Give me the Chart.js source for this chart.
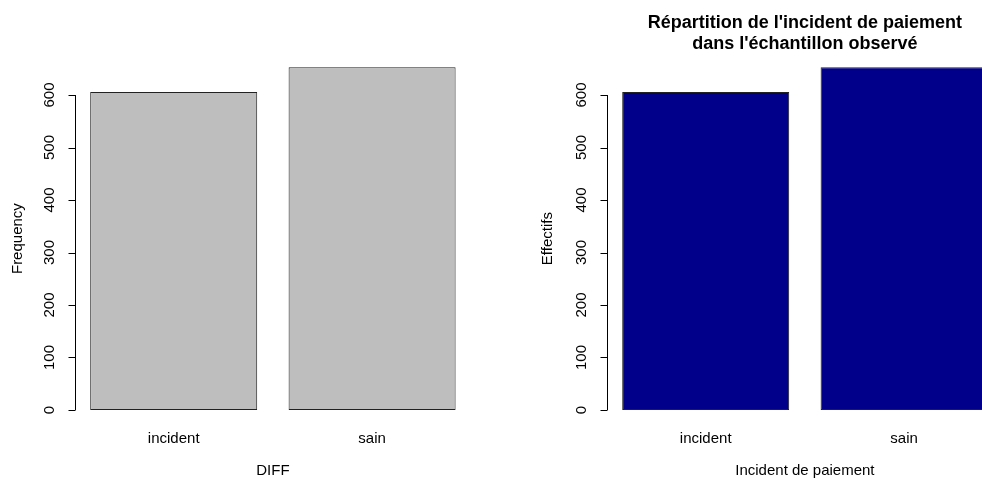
<!DOCTYPE html>
<html lang="fr">
<head>
  <meta charset="UTF-8" />
  <title>Incident de paiement</title>
  <script src="https://cdn.jsdelivr.net/npm/chart.js"></script>
  <style>
    html, body { margin: 0; padding: 0; background: #fff; overflow: hidden; }
    body { width: 982px; height: 480px; position: relative; }
    canvas { position: absolute; top: 0; }
  </style>
</head>
<body>
  <canvas id="leftChart" width="491" height="480" style="left:0"></canvas>
  <canvas id="rightChart" width="540" height="480" style="left:491px"></canvas>

  <script>
    // data
    const categories = ['incident', 'sain'];
    const counts = [606, 653];
    const yTicks = [0, 100, 200, 300, 400, 500, 600];

    const FONT = '"Liberation Sans", Arial, sans-serif';

    // R style axes, titles and labels drawn from the chart's own scales
    const rAxes = {
      id: 'rAxes',
      afterDraw(chart, args, opts) {
        const ctx = chart.ctx;
        const area = chart.chartArea;
        const y = chart.scales.y;
        const x = chart.scales.x;
        ctx.save();
        ctx.strokeStyle = '#000';
        ctx.fillStyle = '#000';
        ctx.lineWidth = 1;

        // y axis line + ticks
        const ax = Math.round(area.left) + 0.5;
        ctx.beginPath();
        ctx.moveTo(ax, y.getPixelForValue(yTicks[0]));
        ctx.lineTo(ax, y.getPixelForValue(yTicks[yTicks.length - 1]));
        yTicks.forEach(t => {
          const py = Math.round(y.getPixelForValue(t)) + 0.5;
          ctx.moveTo(ax, py);
          ctx.lineTo(ax - 7, py);
        });
        ctx.stroke();

        ctx.font = '15px ' + FONT;
        ctx.textAlign = 'center';
        ctx.textBaseline = 'middle';
        yTicks.forEach(t => {
          ctx.save();
          ctx.translate(area.left - 24.5, y.getPixelForValue(t));
          ctx.rotate(-Math.PI / 2);
          ctx.fillText(String(t), 0, 0);
          ctx.restore();
        });

        // y title
        ctx.save();
        ctx.translate(area.left - opts.ylabGap, (area.top + area.bottom) / 2);
        ctx.rotate(-Math.PI / 2);
        ctx.fillText(opts.ylab, 0, 0);
        ctx.restore();

        // category labels + x title
        categories.forEach((c, i) => {
          ctx.fillText(c, x.getPixelForValue(i), 439);
        });
        const cx = (area.left + area.right) / 2;
        ctx.fillText(opts.xlab, cx, 471);

        // main title
        if (opts.title) {
          ctx.font = 'bold 18px ' + FONT;
          opts.title.forEach((line, i) => ctx.fillText(line, cx, 23 + i * 21.5));
        }
        ctx.restore();
      }
    };

    function makeChart(id, color, pad, extra) {
      const top = Math.max(...counts);
      new Chart(document.getElementById(id), {
        type: 'bar',
        data: {
          labels: categories,
          datasets: [{
            data: counts,
            backgroundColor: color,
            borderColor: '#222',
            borderWidth: 1,
            borderSkipped: false,
            barPercentage: 1 / 1.188,
            categoryPercentage: 1
          }]
        },
        options: {
          responsive: false,
          animation: false,
          devicePixelRatio: 1,
          layout: { padding: pad },
          scales: {
            x: { type: 'category', offset: true, display: false },
            y: { min: -top * 0.04, max: top * 1.04, display: false }
          },
          plugins: {
            legend: { display: false },
            tooltip: { enabled: false },
            rAxes: extra
          }
        },
        plugins: [rAxes]
      });
    }

    makeChart('leftChart', '#bebebe',
      { left: 74.5, right: 19.7, top: 53.5, bottom: 56.3 },
      { ylab: 'Frequency', xlab: 'DIFF', ylabGap: 56.5 });

    makeChart('rightChart', '#00008b',
      { left: 115.5, right: 27.7, top: 53.5, bottom: 56.3 },
      { ylab: 'Effectifs', xlab: 'Incident de paiement', ylabGap: 58.5,
        title: ["Répartition de l'incident de paiement", "dans l'échantillon observé"] });
  </script>
</body>
</html>
